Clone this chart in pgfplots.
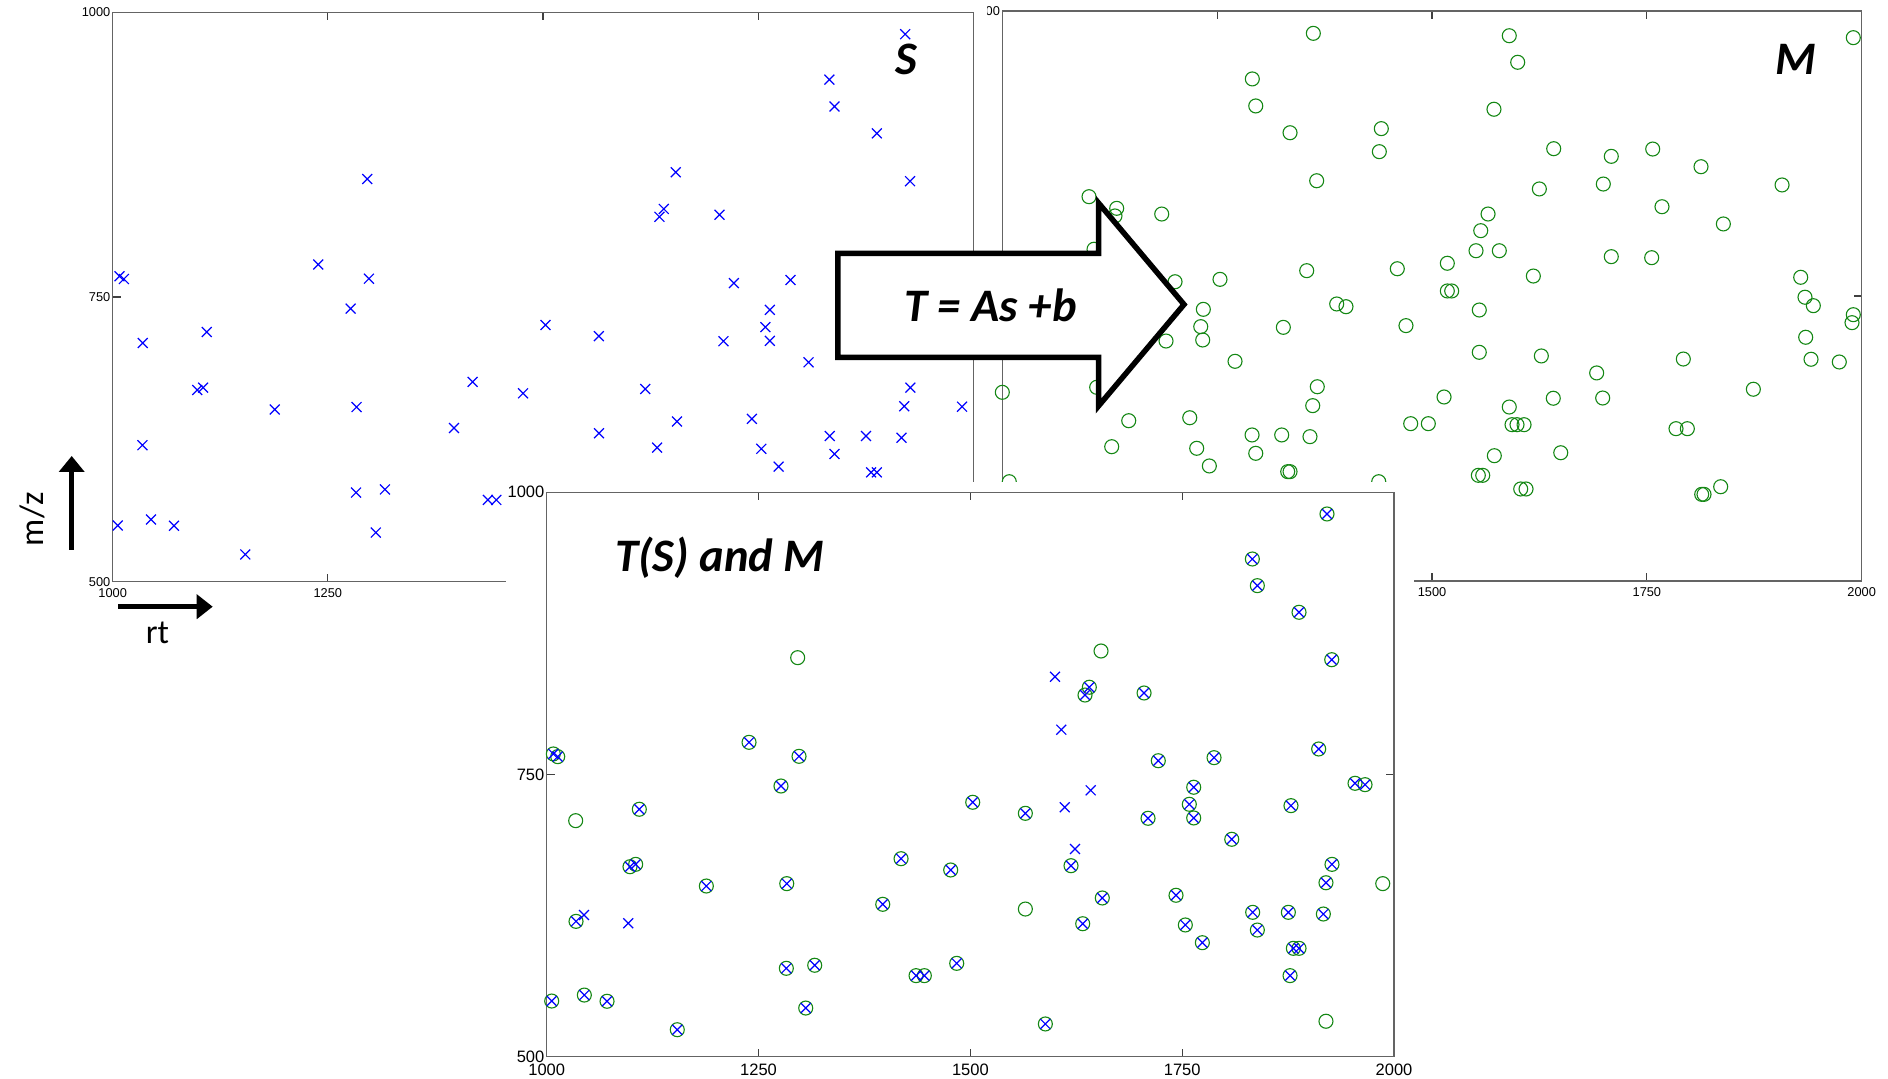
\documentclass[border=0pt]{standalone}
\usepackage{pgfplots}
\pgfplotsset{compat=1.18}
\usepackage{pgfplotstable}
\usepackage{fontspec}
\setmainfont{Liberation Sans}
\newfontfamily\calib{Carlito}
\usetikzlibrary{arrows.meta}

\definecolor{sblue}{RGB}{0,0,255}
\definecolor{mgreen}{RGB}{20,135,20}
\definecolor{axgray}{RGB}{100,100,100}

% features found in both runs (transformed sample and master)
\pgfplotstableread{
rt mz
1920.9 980.8
1832.8 940.9
1838.7 917.3
1887.9 893.7
1926.5 851.7
1640.4 827.3
1635.3 820.4
1705.0 822.2
1721.8 762.2
1787.6 764.9
1911.1 772.6
1954.0 742.2
1965.8 741.0
1238.8 778.5
1297.8 766.1
1007.8 768.2
1013.0 765.8
1276.5 739.8
1109.3 719.2
1098.3 668.3
1105.0 670.4
1188.4 651.2
1283.3 653.3
1418.2 675.4
1476.8 665.4
1396.6 635.0
1034.6 619.9
1282.8 578.3
1316.3 581.0
1435.9 571.8
1445.7 571.8
1483.9 582.7
1005.9 549.3
1044.4 554.6
1071.2 549.1
1305.7 543.1
1154.1 523.9
1502.8 725.4
1564.9 715.6
1618.8 669.2
1709.7 711.2
1763.6 738.7
1758.4 723.6
1763.6 711.5
1808.5 692.6
1878.4 722.4
1926.8 670.4
1919.7 654.1
1655.7 640.6
1632.6 617.8
1742.7 643.0
1753.7 616.7
1773.8 601.0
1833.2 627.9
1838.7 612.2
1875.3 627.9
1916.6 626.4
1881.2 596.0
1887.9 596.0
1877.3 571.8
1588.5 529.0
}\Matched

% sample features without a partner, before the transform
\pgfplotstableread{
rt mz
1654.2 859.5
1295.8 853.6
1034.9 709.6
1986.9 653.7
1565.1 630.3
1919.7 531.4
}\Sextra

% transformed sample features without a partner
\pgfplotstableread{
rt mz
1599.9 836.6
1607.3 789.7
1044.0 625.5
1096.3 618.2
1611.4 720.9
1642.0 736.0
1623.5 684.0
}\TSonly

% master features without a partner
\pgfplotstableread{
rt mz
1654.2 859.4
1296.2 853.5
1034.2 709.1
1986.7 653.3
1564.9 630.8
1919.7 531.4
}\Monly

% master run, own coordinates
\pgfplotstableread{
rt mz
1361.9 980.4
1290.9 940.4
1294.9 916.7
1334.8 893.2
1441.0 896.8
1438.7 876.6
1365.8 851.1
1100.9 837.1
1133.1 826.9
1131.1 820.2
1185.5 821.9
1106.7 791.0
1354.2 772.2
1459.6 773.9
1201.0 762.5
1253.3 764.6
1389.1 743.0
1399.9 740.6
1589.9 978.3
1599.7 955.0
1572.1 913.8
1641.6 879.2
1708.6 872.5
1756.8 878.9
1813.0 863.4
1907.3 847.4
1624.9 843.9
1699.3 848.2
1767.6 828.3
1565.2 821.9
1556.7 807.3
1551.2 789.7
1578.3 789.7
1839.0 813.2
1517.8 778.7
1617.9 767.5
1708.6 784.5
1755.6 783.6
1929.0 766.4
1990.2 976.6
1517.8 754.4
1522.9 754.4
1934.0 748.9
1943.7 741.5
1555.0 737.7
1469.7 724.0
1555.0 700.6
1627.2 697.4
1691.6 682.5
1792.4 694.7
1873.9 668.2
1514.0 661.4
1641.1 660.3
1698.6 660.5
1589.9 652.6
1475.2 638.0
1495.7 638.0
1593.1 637.1
1598.9 637.1
1607.1 637.1
1783.9 633.6
1797.1 633.6
1649.8 612.5
1572.5 609.9
1553.9 592.7
1559.0 592.7
1603.2 580.7
1609.4 580.7
1835.9 582.7
1813.8 576.0
1816.5 576.0
1934.8 713.8
1941.0 694.5
1973.9 692.1
1990.2 733.6
1988.7 726.6
1233.9 738.3
1230.9 723.1
1233.2 711.4
1190.5 710.5
1270.8 692.7
1327.0 722.5
1000.0 665.5
1147.1 640.6
1218.1 643.2
1127.3 617.8
1226.2 616.4
1240.9 600.9
1290.6 628.1
1325.1 628.1
1358.0 626.6
1294.9 612.0
1366.5 670.4
1361.2 653.8
1332.1 595.9
1334.8 595.9
1438.0 587.1
1008.1 587.1
1109.8 669.9
}\Mtop

\pgfplotsset{
  panel/.style={
    anchor=south west, scale only axis, clip=false,
    xmin=1000, xmax=2000, ymin=500, ymax=1000,
    xtick={1000,1250,1500,1750,2000}, ytick={500,750,1000},
    tick align=inside, tick pos=both,
    xticklabel pos=lower, yticklabel pos=left,
    major tick length=4pt,
    axis line style={axgray, line width=0.65pt},
    major tick style={black!75, line width=0.6pt},
    scaled ticks=false,
    /pgf/number format/1000 sep={},
    /pgf/number format/assume math mode=true,
    yticklabel style={inner xsep=1pt},
  },
  small labels/.style={tick label style={font=\fontsize{6.4}{7}\selectfont}},
  large labels/.style={tick label style={font=\fontsize{8.25}{9}\selectfont}},
  crosses/.style={only marks, mark=x, mark size=3.5pt,
    mark options={sblue, line width=0.6pt}},
  rings/.style={only marks, mark=o, mark size=3.5pt,
    mark options={mgreen, line width=0.55pt}},
}

\newcommand{\ttlfont}{\calib\bfseries\itshape\fontsize{23.3}{26}\selectfont}

\begin{document}
\begin{tikzpicture}
\path[use as bounding box] (0,0) rectangle (944pt,539.5pt);

% master run (its lower m/z labels sit under the arrow and the overlay panel)
\begin{axis}[panel, small labels, at={(501.15pt,249pt)},
  width=429.7pt, height=285pt, yticklabels={,,1000}]
  \addplot[rings] table[x=rt, y=mz] {\Mtop};
\end{axis}

\begin{scope}[shift={(0pt,539.5pt)}, x=0.5pt, y=-0.5pt]
  \fill[white] (0,0) rectangle (987,620);
\end{scope}

% sample run
\begin{axis}[panel, small labels, at={(56.35pt,248.65pt)},
  width=430.3pt, height=284.7pt]
  \addplot[crosses] table[x=rt, y=mz] {\Matched};
  \addplot[crosses] table[x=rt, y=mz] {\Sextra};
\end{axis}

\begin{scope}[shift={(0pt,539.5pt)}, x=0.5pt, y=-0.5pt]
  \fill[white] (506,482) rectangle (1414,1079);
\end{scope}

% transformed sample over master
\begin{axis}[panel, large labels, at={(273.35pt,11.15pt)},
  width=423.65pt, height=282.2pt]
  \addplot[rings] table[x=rt, y=mz] {\Matched};
  \addplot[rings] table[x=rt, y=mz] {\Monly};
  \addplot[crosses] table[x=rt, y=mz] {\Matched};
  \addplot[crosses] table[x=rt, y=mz] {\TSonly};
\end{axis}

\begin{scope}[shift={(0pt,539.5pt)}, x=0.5pt, y=-0.5pt]
  % transform arrow
  \draw[line width=2.75pt, fill=white, line join=miter]
    (837.8,253.5) -- (1098.5,253.5) -- (1098.5,203) -- (1184,304.5)
    -- (1098.5,406) -- (1098.5,357.5) -- (837.8,357.5) -- cycle;
  \node[anchor=base] at (990.5,321.7) {\ttlfont T = As +b};

  % panel captions
  \node[anchor=base] at (906,75) {\ttlfont S};
  \node[anchor=base] at (1796,75) {\ttlfont M};
  \node[anchor=base] at (720,571.7) {\ttlfont T(S) and M};

  % axis hints
  \draw[line width=2.65pt, -{Triangle[length=8pt,width=12.5pt]}] (71.7,550) -- (71.7,456);
  \draw[line width=2.65pt, -{Triangle[length=8pt,width=12pt]}] (118.3,606.7) -- (212.7,606.7);
  \node[rotate=90, anchor=base] at (43.3,519.2) {\calib\fontsize{17}{18}\selectfont m/z};
  \node[anchor=base] at (157.5,643.3) {\calib\fontsize{17}{18}\selectfont rt};
\end{scope}
\end{tikzpicture}
\end{document}
